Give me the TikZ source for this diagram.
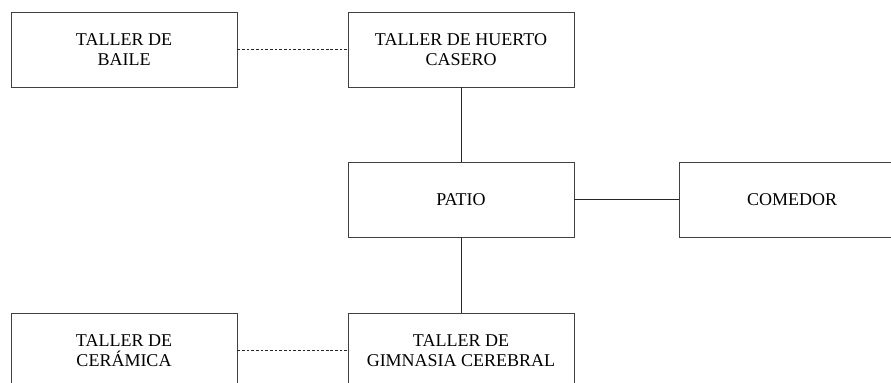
\documentclass[tikz,border=0pt]{standalone}
\usepackage{fontspec}
\setmainfont{Liberation Serif}
\usetikzlibrary{positioning}

\begin{document}
\begin{tikzpicture}[x=0.6667pt,y=-0.6667pt]
\clip (0,0) rectangle (891,383);
\useasboundingbox (0,0) rectangle (891,383);
\begin{scope}[every node/.style={rectangle,draw=black!75,line width=0.6pt,
              minimum width=150.7pt,minimum height=50pt,align=center,
              font=\fontsize{12}{13.6}\selectfont}]
    \node (TB) at (124,49.5) {TALLER DE\\BAILE};
    \node (TH) at (461,49.5) {TALLER DE HUERTO\\CASERO};
    \node (P) at (461,199.5) {PATIO};
    \node (C) at (792,199.5) {COMEDOR};
    \node (TC) at (124,350.5) {TALLER DE\\CER\'AMICA};
    \node (TG) at (461,350.5) {TALLER DE\\GIMNASIA CEREBRAL};
\end{scope}
\begin{scope}[every edge/.style={draw=black!85,line width=0.6pt}]
    \path [-] (TH) edge (P);
    \path [-] (P) edge (TG);
    \path [-] (P) edge (C);
    \path [-,dash pattern=on 1.8pt off 1.3pt] (TB) edge (TH);
    \path [-,dash pattern=on 1.8pt off 1.3pt] (TC) edge (TG);
\end{scope}
\end{tikzpicture}
\end{document}
